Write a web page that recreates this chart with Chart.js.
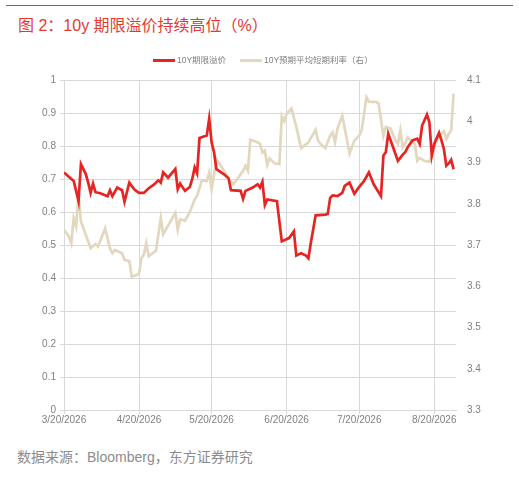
<!DOCTYPE html>
<html>
<head>
<meta charset="utf-8">
<script src="https://cdn.jsdelivr.net/npm/chart.js@4.4.1/dist/chart.umd.min.js"></script>
<style>
  html, body { margin: 0; padding: 0; background: #fff; }
  body { width: 519px; height: 480px; position: relative; overflow: hidden;
         font-family: "Liberation Sans", "Noto Sans CJK SC", sans-serif; }
  #topline { position: absolute; left: 6px; top: 5px; width: 507px; height: 1px; background: #e23a33; }
  #title { position: absolute; left: 18px; top: 12px; font-size: 16px; color: #e23a33; white-space: nowrap; }
  #source { position: absolute; left: 17px; top: 446px; font-size: 14px; color: #8c8c8c; white-space: nowrap; }
  #wrap { position: absolute; left: 0; top: 0; width: 519px; height: 426px; }
  .legend { position: absolute; top: 54px; font-size: 8.5px; color: #7f7f7f; white-space: nowrap; line-height: 12px; }
  .legend i { position: absolute; top: 5px; height: 3px; width: 22px; }
</style>
</head>
<body>
<div id="topline"></div>
<div id="title">图 2：10y 期限溢价持续高位（%）</div>
<div id="wrap"><canvas id="premium"></canvas></div>
<div class="legend" style="left:153px"><i style="left:0;background:#e52521"></i><span style="margin-left:24px">10Y期限溢价</span></div>
<div class="legend" style="left:240px"><i style="left:0;background:#e3d9c2"></i><span style="margin-left:24px">10Y预期平均短期利率（右）</span></div>
<div id="source">数据来源：Bloomberg，东方证券研究</div>
<script>
// days counted from 3/20/2026
const tickDays = [0, 31, 61, 92, 122, 153]
const tickLabels = ['3/20/2026', '4/20/2026', '5/20/2026', '6/20/2026', '7/20/2026', '8/20/2026']

// 10Y期限溢价 (left axis)
const premiumDays = [0, 2, 4, 5, 6, 7, 9, 10, 11, 12, 13, 15, 18, 19, 20, 22, 24, 25, 27, 29,
  31, 33, 35, 37, 39, 40, 41, 43, 46, 47, 48, 50, 52, 53, 54, 55, 56, 59, 60, 61,
  62, 63, 66, 68, 69, 73, 74, 75, 78, 80, 81, 82, 83, 84, 88, 90, 93, 95, 96, 98,
  100, 101, 102, 104, 108, 109, 110, 111, 113, 115, 116, 118, 120, 122, 124, 126, 128, 131, 132, 133,
  134, 136, 138, 140, 141, 142, 144, 146, 147, 148, 150, 151, 152, 153, 155, 156, 157, 158, 159, 160, 161]
const premiumValues = [0.72, 0.707, 0.694, 0.664, 0.633, 0.745, 0.715, 0.689, 0.658, 0.686, 0.66, 0.657, 0.648, 0.666, 0.648, 0.674, 0.666, 0.631, 0.689, 0.669,
  0.658, 0.658, 0.672, 0.682, 0.696, 0.689, 0.72, 0.704, 0.73, 0.669, 0.686, 0.664, 0.676, 0.70, 0.735, 0.717, 0.824, 0.832, 0.883, 0.811,
  0.781, 0.73, 0.715, 0.702, 0.666, 0.664, 0.64, 0.664, 0.674, 0.684, 0.674, 0.692, 0.621, 0.638, 0.633, 0.511, 0.521, 0.541, 0.468, 0.475,
  0.468, 0.46, 0.506, 0.59, 0.592, 0.594, 0.643, 0.65, 0.648, 0.658, 0.679, 0.689, 0.655, 0.676, 0.694, 0.72, 0.684, 0.648, 0.771, 0.781,
  0.837, 0.796, 0.755, 0.774, 0.781, 0.796, 0.817, 0.822, 0.806, 0.862, 0.895, 0.872, 0.771, 0.806, 0.84, 0.817, 0.791, 0.74, 0.747, 0.758, 0.73]

// 10Y预期平均短期利率 (right axis)
const rateDays = [0, 2, 3, 4, 5, 6, 7, 9, 11, 13, 14, 17, 19, 20, 21, 24, 25, 27, 28, 30,
  31, 32, 33, 34, 35, 38, 40, 41, 46, 47, 48, 50, 52, 53, 54, 55, 57, 59, 60, 61,
  63, 66, 68, 70, 72, 74, 75, 76, 77, 80, 81, 82, 83, 84, 85, 87, 89, 90, 91, 92,
  94, 96, 98, 101, 104, 105, 106, 108, 110, 111, 112, 113, 115, 118, 120, 122, 123, 125, 126, 129,
  130, 132, 133, 135, 137, 138, 139, 140, 141, 142, 145, 146, 147, 149, 151, 152, 153, 155, 157, 158,
  159, 160, 161]
const rateValues = [3.737, 3.721, 3.704, 3.765, 3.745, 3.823, 3.757, 3.725, 3.692, 3.702, 3.696, 3.74, 3.692, 3.68, 3.688, 3.68, 3.664, 3.661, 3.623, 3.627,
  3.631, 3.668, 3.677, 3.704, 3.673, 3.686, 3.765, 3.726, 3.778, 3.737, 3.762, 3.759, 3.78, 3.795, 3.81, 3.819, 3.857, 3.855, 3.875, 3.835,
  3.908, 3.881, 3.862, 3.847, 3.863, 3.88, 3.892, 3.88, 3.955, 3.949, 3.945, 3.924, 3.929, 3.894, 3.91, 3.898, 3.896, 4.012, 4.0, 4.018,
  4.031, 3.986, 3.935, 3.949, 3.979, 3.953, 3.945, 3.935, 3.965, 3.973, 3.949, 3.982, 4.014, 3.922, 3.953, 3.965, 3.978, 4.058, 4.047, 4.047,
  4.043, 3.965, 3.986, 3.982, 3.953, 3.945, 3.978, 3.937, 3.945, 3.961, 3.945, 3.904, 3.911, 3.904, 3.902, 3.916, 3.937, 3.965, 3.976, 3.957,
  3.969, 3.978, 4.067]

const gridColor = '#d9d9d9'
const tickColor = '#808080'
const fontFamily = '"Liberation Sans", "Noto Sans CJK SC", sans-serif'

const toPoints = (xs, ys) => xs.map((d, i) => ({ x: d, y: ys[i] }))
const oneDecimal = (v) => String(+v.toFixed(1))

const premiumConfig = {
  type: 'line',
  data: {
    datasets: [
      {
        label: '10Y期限溢价',
        data: toPoints(premiumDays, premiumValues),
        borderColor: '#e52521',
        borderWidth: 2.7,
        pointRadius: 0,
        tension: 0,
        yAxisID: 'y',
      },
      {
        label: '10Y预期平均短期利率（右）',
        data: toPoints(rateDays, rateValues),
        borderColor: '#e2d7bf',
        borderWidth: 2.7,
        pointRadius: 0,
        tension: 0,
        yAxisID: 'y1',
      },
    ],
  },
  options: {
    responsive: false,
    animation: false,
    layout: { padding: { top: 80, left: 0, right: 0, bottom: 0 } },
    plugins: {
      tooltip: { enabled: false },
      // legend is drawn as html above the canvas
      legend: { display: false },
    },
    scales: {
      x: {
        type: 'linear',
        min: 0,
        max: 162,
        afterBuildTicks: (scale) => { scale.ticks = tickDays.map((v) => ({ value: v })) },
        ticks: {
          color: tickColor,
          font: { size: 10, family: fontFamily },
          maxRotation: 0,
          autoSkip: false,
          padding: 0,
          callback: (v) => tickLabels[tickDays.indexOf(v)],
        },
        grid: { color: gridColor, tickLength: 4 },
        border: { color: gridColor },
      },
      y: {
        position: 'left',
        min: 0,
        max: 1,
        ticks: { stepSize: 0.1, color: tickColor, font: { size: 10, family: fontFamily }, padding: 4, callback: oneDecimal },
        grid: { color: gridColor, tickLength: 4 },
        border: { color: gridColor },
        afterFit: (scale) => { scale.width = 64 },
      },
      y1: {
        position: 'right',
        min: 3.3,
        max: 4.1,
        ticks: { stepSize: 0.1, color: tickColor, font: { size: 10, family: fontFamily }, padding: 3, callback: oneDecimal },
        grid: { display: false, drawOnChartArea: false },
        border: { display: false },
        afterFit: (scale) => { scale.width = 63 },
      },
    },
  },
}

const premiumCanvas = document.getElementById('premium')
premiumCanvas.width = 519
premiumCanvas.height = 426
window.myLine = new Chart(premiumCanvas, premiumConfig)
</script>
</body>
</html>
